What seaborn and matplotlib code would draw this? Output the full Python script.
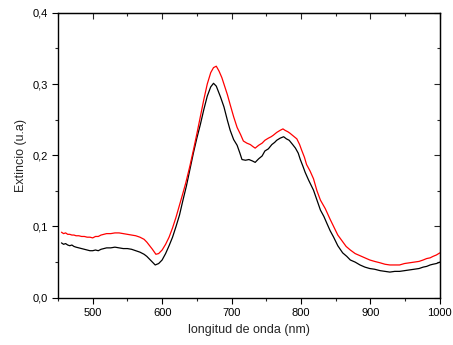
import numpy as np
import pandas as pd
import seaborn as sns
from matplotlib import pyplot as plt
from matplotlib.ticker import MultipleLocator, FuncFormatter, NullFormatter

# black curve
wl_black = [455, 458, 461, 464, 467, 470, 473, 476, 480, 484, 488, 492, 496, 500, 504, 508,
            512, 516, 520, 526, 532, 538, 544, 550, 556, 562, 568, 574, 578, 582, 586, 590,
            595, 600, 605, 610, 615, 620, 625, 630, 635, 640, 645, 650, 655, 660, 665, 670,
            674, 678, 684, 689, 694, 698, 703, 708, 712, 715, 720, 725, 730, 734, 739, 744,
            748, 753, 758, 762, 765, 770, 775, 779, 783, 788, 792, 796, 799, 803, 806, 811,
            818, 823, 828, 833, 837, 842, 847, 853, 860, 866, 871, 878, 885, 892, 899, 906,
            914, 921, 928, 935, 942, 949, 956, 963, 970, 976, 981, 986, 990, 995, 1000]
ext_black = [0.077, 0.075, 0.076, 0.074, 0.073, 0.074, 0.072, 0.071, 0.070, 0.069, 0.068, 0.067, 0.066, 0.066, 0.067, 0.066,
             0.068, 0.069, 0.070, 0.070, 0.071, 0.070, 0.069, 0.069, 0.068, 0.066, 0.064, 0.061, 0.058, 0.054, 0.050, 0.046,
             0.048, 0.053, 0.062, 0.073, 0.085, 0.100, 0.116, 0.137, 0.157, 0.180, 0.203, 0.224, 0.243, 0.264, 0.283, 0.296,
             0.301, 0.297, 0.282, 0.268, 0.249, 0.235, 0.222, 0.214, 0.203, 0.194, 0.193, 0.194, 0.192, 0.190, 0.195, 0.199,
             0.206, 0.209, 0.215, 0.218, 0.221, 0.224, 0.226, 0.223, 0.221, 0.215, 0.210, 0.203, 0.194, 0.184, 0.176, 0.165,
             0.151, 0.137, 0.123, 0.114, 0.105, 0.094, 0.085, 0.073, 0.063, 0.058, 0.053, 0.050, 0.046, 0.043, 0.041, 0.040,
             0.038, 0.037, 0.036, 0.037, 0.037, 0.038, 0.039, 0.040, 0.041, 0.043, 0.044, 0.046, 0.047, 0.048, 0.050]

# red curve
wl_red = [455, 458, 461, 464, 467, 470, 473, 476, 480, 484, 488, 492, 496, 500, 504, 508,
          512, 516, 520, 526, 532, 538, 544, 550, 556, 562, 568, 574, 578, 582, 586, 591,
          595, 600, 605, 610, 615, 620, 625, 630, 634, 640, 645, 650, 655, 660, 665, 670,
          674, 678, 682, 686, 689, 694, 698, 703, 708, 713, 717, 722, 727, 731, 734, 739,
          744, 748, 753, 757, 760, 765, 770, 774, 777, 781, 784, 789, 794, 798, 801, 805,
          808, 813, 818, 823, 828, 835, 842, 847, 853, 859, 865, 871, 878, 885, 892, 899,
          906, 914, 921, 928, 935, 942, 949, 956, 963, 970, 976, 981, 986, 990, 995, 1000]
ext_red = [0.092, 0.090, 0.091, 0.089, 0.089, 0.088, 0.088, 0.087, 0.087, 0.086, 0.086, 0.085, 0.085, 0.084, 0.086, 0.086,
           0.088, 0.089, 0.090, 0.090, 0.091, 0.091, 0.090, 0.089, 0.088, 0.087, 0.085, 0.082, 0.078, 0.073, 0.068, 0.061,
           0.062, 0.067, 0.075, 0.085, 0.098, 0.113, 0.130, 0.147, 0.161, 0.185, 0.207, 0.230, 0.254, 0.278, 0.300, 0.316,
           0.323, 0.325, 0.318, 0.309, 0.300, 0.285, 0.271, 0.254, 0.239, 0.229, 0.220, 0.217, 0.215, 0.212, 0.210, 0.214,
           0.217, 0.221, 0.224, 0.226, 0.228, 0.232, 0.235, 0.237, 0.235, 0.233, 0.231, 0.227, 0.223, 0.215, 0.207, 0.197,
           0.187, 0.178, 0.167, 0.150, 0.137, 0.125, 0.110, 0.100, 0.088, 0.080, 0.072, 0.067, 0.062, 0.059, 0.056, 0.053,
           0.051, 0.049, 0.047, 0.046, 0.046, 0.046, 0.048, 0.049, 0.050, 0.051, 0.053, 0.055, 0.056, 0.058, 0.060, 0.063]

x_ticks = [500, 600, 700, 800, 900, 1000]
y_ticks = [0.0, 0.1, 0.2, 0.3, 0.4]

sns.set_style("ticks")
plt.rcParams['font.family'] = ['Liberation Sans', 'DejaVu Sans']

df_black = pd.DataFrame({"wl": wl_black, "ext": ext_black})
df_red = pd.DataFrame({"wl": wl_red, "ext": ext_red})

fig = plt.figure(figsize=(4.53, 3.45), dpi=100)
ax = fig.add_axes([0.128, 0.137, 0.843, 0.826])
sns.lineplot(data=df_black, x="wl", y="ext", color="black", linewidth=0.9, ax=ax)
sns.lineplot(data=df_red, x="wl", y="ext", color="red", linewidth=0.9, ax=ax)

ax.set_xlim(450, 1000)
ax.set_ylim(0, 0.4)
ax.set_xticks(x_ticks)
ax.set_yticks(y_ticks)
ax.xaxis.set_minor_locator(MultipleLocator(50))
ax.yaxis.set_minor_locator(MultipleLocator(0.05))
ax.yaxis.set_major_formatter(FuncFormatter(lambda v, p: f"{v:.1f}".replace(".", ",")))
ax.tick_params(which="major", direction="out", length=4, width=0.8, labelsize=8, colors="black")
ax.tick_params(which="minor", direction="out", length=2.5, width=0.8)
for spine in ax.spines.values():
    spine.set_visible(True)
    spine.set_linewidth(1.0)
    spine.set_color("black")

# mirrored ticks pointing inward on top and right
top = ax.secondary_xaxis("top")
top.set_xticks(x_ticks)
top.xaxis.set_minor_locator(MultipleLocator(50))
top.xaxis.set_major_formatter(NullFormatter())
top.tick_params(which="major", direction="in", length=4, width=0.8)
top.tick_params(which="minor", direction="in", length=2.5, width=0.8)
right = ax.secondary_yaxis("right")
right.set_yticks(y_ticks)
right.yaxis.set_minor_locator(MultipleLocator(0.05))
right.yaxis.set_major_formatter(NullFormatter())
right.tick_params(which="major", direction="in", length=4, width=0.8)
right.tick_params(which="minor", direction="in", length=2.5, width=0.8)

ax.set_xlabel("longitud de onda (nm)", fontsize=9)
ax.set_ylabel("Extincio (u.a)", fontsize=9)

plt.savefig("out.png", dpi=100)
